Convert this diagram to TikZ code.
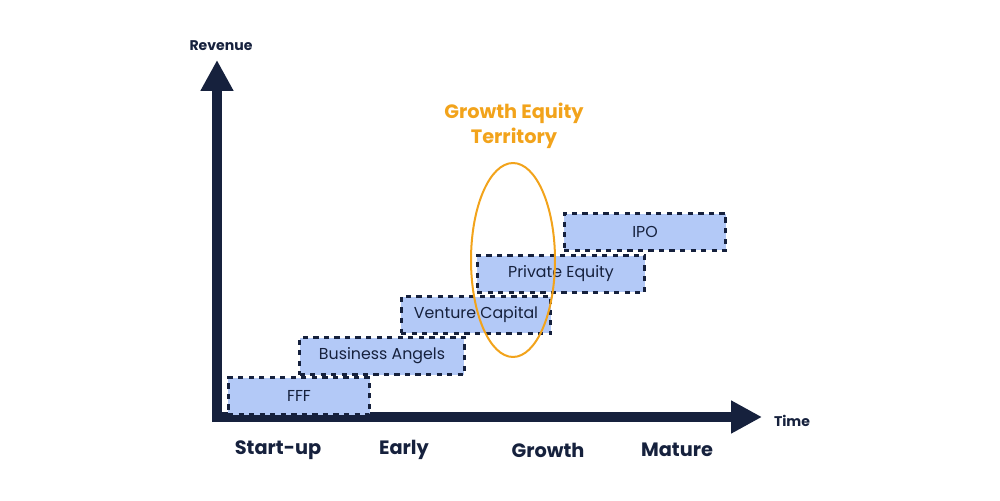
\documentclass[tikz,border=0pt]{standalone}
\usepackage{fontspec}
\setmainfont{Poppins}
\usetikzlibrary{arrows.meta}
\definecolor{navy}{HTML}{16213D}
\definecolor{boxblue}{HTML}{B3C9F7}
\definecolor{gold}{HTML}{F2A31B}

\begin{document}
\begin{tikzpicture}[x=0.02cm, y=-0.02cm,
    fund/.style={draw=navy, fill=boxblue, dashed, line width=0.06cm, minimum height=0.74cm,
                 text=navy, font=\fontsize{9}{11}\selectfont, inner sep=0pt},
    stage/.style={text=navy, font=\fontsize{11}{13}\selectfont\bfseries},
    axis/.style={navy, line width=0.2cm, -{Triangle[length=0.62cm,width=0.62cm]}}]
    \useasboundingbox (0,0) rectangle (1000,500);
    % axes
    \coordinate (origin) at (217,417);
    \coordinate (ytop) at (217,60);
    \coordinate (xend) at (762,417);
    \draw[axis] ([yshift=-0.1cm]origin) -- (ytop);
    \draw[axis] ([xshift=-0.1cm]origin) -- (xend);
    \node[text=navy, font=\fontsize{8}{10}\selectfont\bfseries] (rev) at (221,46) {Revenue};
    \node[text=navy, font=\fontsize{8}{10}\selectfont\bfseries] (time) at (792,421) {Time};
    % funding stages
    \node[fund, minimum width=2.84cm] (fff) at (299,396) {FFF};
    \node[fund, minimum width=3.3cm] (angels) at (382,356) {Business Angels};
    \node[fund, minimum width=3.0cm] (vc) at (476,315) {Venture Capital};
    \node[fund, minimum width=3.36cm] (pe) at (561,274) {Private Equity};
    \node[fund, minimum width=3.24cm] (ipo) at (645,232) {IPO};
    % growth equity
    \draw[gold, line width=0.04cm] (513,260) ellipse [x radius=0.84cm, y radius=1.94cm];
    \node[text=gold, align=center, font=\fontsize{11}{14}\selectfont\bfseries] (territory) at (514,126) {Growth Equity\\Territory};
    % phases
    \node[stage] (startup) at (278,450) {Start-up};
    \node[stage] (early) at (404,450) {Early};
    \node[stage] (growth) at (548,450) {Growth};
    \node[stage] (mature) at (677,450) {Mature};
\end{tikzpicture}
\end{document}
